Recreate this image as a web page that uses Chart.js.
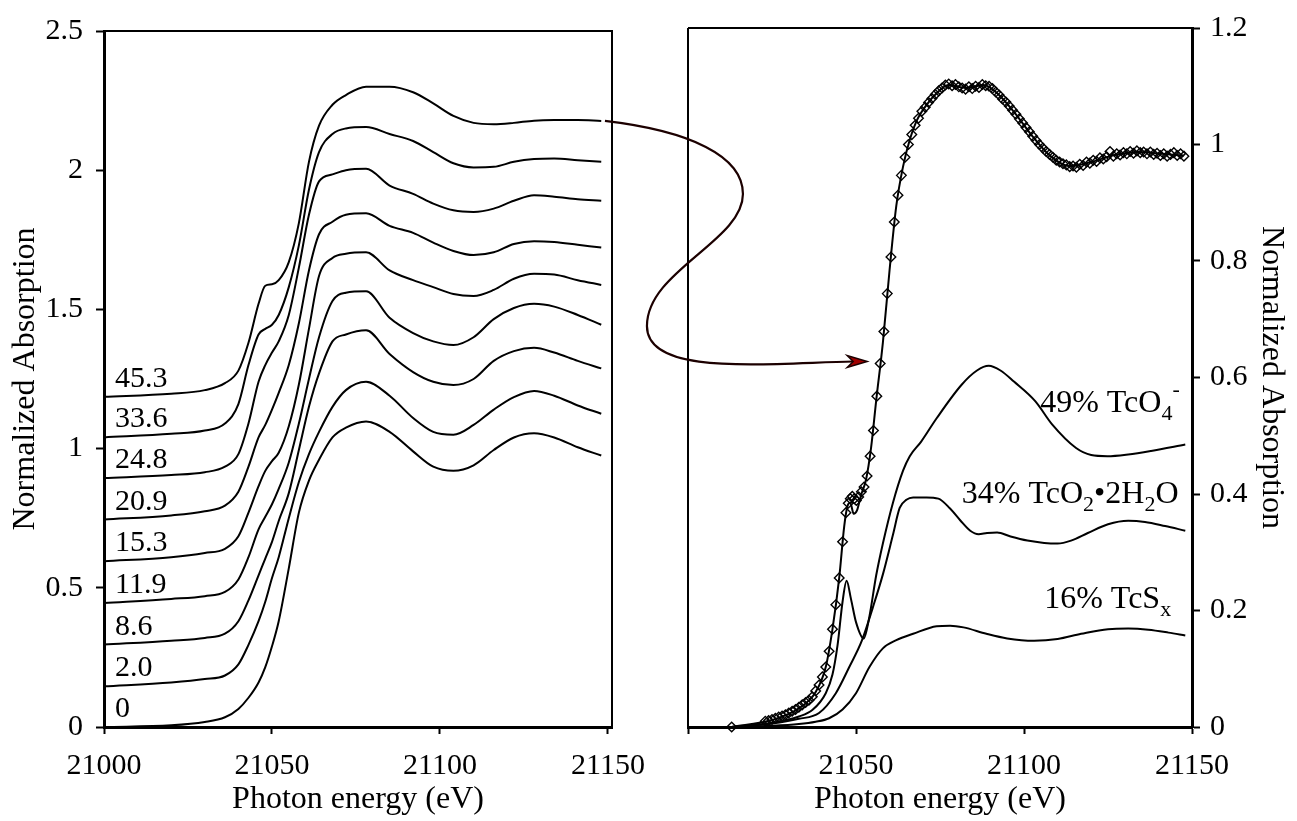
<!DOCTYPE html>
<html>
<head>
<meta charset="utf-8">
<script src="https://cdn.jsdelivr.net/npm/chart.js@4.4.0/dist/chart.umd.min.js"></script>
<style>
  html, body { margin: 0; padding: 0; background: #fff; }
  #wrap { position: relative; width: 1297px; height: 821px; }
  canvas { position: absolute; top: 0; }
  #leftChart { left: 0; }
  #rightChart { left: 650px; }
  #arrow { left: 0; pointer-events: none; }
</style>
</head>
<body>
<div id="wrap">
  <canvas id="leftChart" width="660" height="821"></canvas>
  <canvas id="rightChart" width="647" height="821"></canvas>
  <canvas id="arrow" width="1297" height="821"></canvas>
</div>
<script>
// left panel: stacked spectra, labelled by loading
const leftEnergy = [21000, 21020, 21030, 21036, 21040, 21043, 21046, 21048, 21050, 21052, 21055, 21058, 21061,
  21064, 21068, 21072, 21078, 21085, 21092, 21098, 21104, 21110, 21116, 21122, 21128, 21134, 21141, 21148];
const sampleLabels = ['0', '2.0', '8.6', '11.9', '15.3', '20.9', '24.8', '33.6', '45.3'];
const spec00 = [0, 0.006, 0.018, 0.035, 0.065, 0.105, 0.16, 0.215, 0.29, 0.38, 0.57, 0.77, 0.885,
  0.96, 1.04, 1.075, 1.097, 1.06, 0.99, 0.935, 0.92, 0.94, 0.995, 1.04, 1.055, 1.04, 1.005, 0.975];
const spec20 = [0.146, 0.16, 0.172, 0.185, 0.225, 0.295, 0.38, 0.45, 0.535, 0.61, 0.75, 0.88, 0.98,
  1.06, 1.15, 1.21, 1.24, 1.19, 1.11, 1.06, 1.05, 1.085, 1.14, 1.185, 1.207, 1.19, 1.155, 1.125];
const spec86 = [0.296, 0.31, 0.32, 0.335, 0.38, 0.455, 0.545, 0.605, 0.665, 0.74, 0.84, 0.995, 1.15,
  1.27, 1.385, 1.41, 1.425, 1.34, 1.275, 1.24, 1.228, 1.25, 1.315, 1.35, 1.362, 1.345, 1.315, 1.288];
const spec119 = [0.445, 0.46, 0.47, 0.485, 0.53, 0.61, 0.71, 0.755, 0.80, 0.855, 0.95, 1.09, 1.25,
  1.40, 1.53, 1.56, 1.565, 1.47, 1.415, 1.385, 1.372, 1.40, 1.465, 1.505, 1.52, 1.51, 1.48, 1.445];
const spec153 = [0.595, 0.61, 0.625, 0.64, 0.685, 0.77, 0.865, 0.92, 0.955, 0.985, 1.08, 1.23, 1.43,
  1.62, 1.685, 1.70, 1.705, 1.64, 1.605, 1.58, 1.555, 1.548, 1.57, 1.61, 1.628, 1.625, 1.605, 1.588];
const spec209 = [0.745, 0.76, 0.775, 0.795, 0.845, 0.935, 1.04, 1.085, 1.14, 1.20, 1.30, 1.45, 1.64,
  1.77, 1.815, 1.84, 1.845, 1.80, 1.775, 1.74, 1.71, 1.695, 1.705, 1.735, 1.745, 1.742, 1.732, 1.722];
const spec248 = [0.894, 0.905, 0.915, 0.935, 0.98, 1.09, 1.24, 1.30, 1.345, 1.385, 1.48, 1.65, 1.84,
  1.96, 1.985, 2.0, 2.005, 1.945, 1.915, 1.88, 1.856, 1.85, 1.862, 1.89, 1.91, 1.905, 1.896, 1.89];
const spec336 = [1.04, 1.053, 1.065, 1.09, 1.16, 1.30, 1.41, 1.43, 1.445, 1.48, 1.58, 1.73, 1.93,
  2.065, 2.13, 2.15, 2.155, 2.13, 2.105, 2.065, 2.025, 2.01, 2.012, 2.03, 2.04, 2.042, 2.036, 2.03];
const spec453 = [1.186, 1.197, 1.21, 1.235, 1.28, 1.38, 1.52, 1.585, 1.59, 1.605, 1.67, 1.81, 2.03,
  2.16, 2.235, 2.27, 2.30, 2.30, 2.28, 2.24, 2.195, 2.17, 2.165, 2.17, 2.178, 2.18, 2.18, 2.177];
const leftSeries = [spec00, spec20, spec86, spec119, spec153, spec209, spec248, spec336, spec453];

const leftXTicks = [21000, 21050, 21100, 21150];
const leftYTicks = [0, 0.5, 1, 1.5, 2, 2.5];

// right panel: measured spectrum (diamonds), fit and weighted components
const dataEnergy = [21013, 21023, 21024, 21025, 21026, 21027, 21028, 21029, 21030, 21031, 21032, 21033, 21034,
  21035, 21036, 21037, 21038, 21039, 21040, 21041, 21042, 21043, 21044, 21045, 21046, 21047, 21047.7, 21048.3,
  21048.9, 21049.5, 21050.1, 21050.8, 21051.6, 21052.4, 21053.3, 21054.2, 21055.2, 21056.2, 21057.2, 21058.3,
  21059.3, 21060.4, 21061.4, 21062.5, 21063.5, 21064.6, 21065.6, 21066.6, 21067.6, 21068.6, 21069.6,
  21070.6, 21071.6, 21072.6, 21073.6, 21074.6, 21075.6, 21076.6, 21077.6, 21078.6, 21079.6,
  21080.6, 21081.6, 21082.6, 21083.6, 21084.6, 21085.6, 21086.6, 21087.6, 21088.6, 21089.6,
  21090.6, 21091.6, 21092.6, 21093.6, 21094.6, 21095.6, 21096.6, 21097.6, 21098.6, 21099.6,
  21100.6, 21101.6, 21102.6, 21103.6, 21104.6, 21105.6, 21106.6, 21107.6, 21108.6, 21109.6,
  21110.6, 21111.6, 21112.6, 21113.6, 21114.6, 21115.6, 21116.6, 21117.6, 21118.6, 21119.6,
  21120.6, 21121.6, 21122.6, 21123.6, 21124.6, 21125.6, 21126.6, 21127.6, 21128.6, 21129.6,
  21130.6, 21131.6, 21132.6, 21133.6, 21134.6, 21135.6, 21136.6, 21137.6, 21138.6, 21139.6,
  21140.6, 21141.6, 21142.6, 21143.6, 21144.6, 21145.6, 21146.6, 21147.6];
const dataValues = [0, 0.010, 0.011, 0.013, 0.015, 0.017, 0.019, 0.021, 0.024, 0.027, 0.030, 0.034, 0.038,
  0.042, 0.046, 0.052, 0.062, 0.072, 0.086, 0.103, 0.13, 0.168, 0.21, 0.256, 0.318, 0.368, 0.384, 0.392,
  0.396, 0.392, 0.389, 0.395, 0.404, 0.412, 0.431, 0.465, 0.509, 0.568, 0.624, 0.679,
  0.744, 0.807, 0.867, 0.913, 0.947, 0.978, 1.000, 1.017, 1.033, 1.045, 1.057,
  1.064, 1.072, 1.079, 1.086, 1.092, 1.097, 1.102, 1.104, 1.101, 1.103,
  1.099, 1.097, 1.095, 1.099, 1.096, 1.100, 1.098, 1.103, 1.101, 1.100,
  1.096, 1.090, 1.085, 1.078, 1.073, 1.066, 1.059, 1.052, 1.044, 1.037,
  1.029, 1.022, 1.014, 1.007, 1.000, 0.994, 0.988, 0.983, 0.978, 0.973,
  0.970, 0.967, 0.965, 0.962, 0.963, 0.961, 0.966, 0.964, 0.970, 0.968,
  0.973, 0.971, 0.977, 0.975, 0.979, 0.988, 0.980, 0.984, 0.982, 0.986,
  0.984, 0.988, 0.985, 0.989, 0.986, 0.987, 0.984, 0.987, 0.983, 0.985,
  0.981, 0.984, 0.980, 0.983, 0.986, 0.981, 0.984, 0.980];

const fitEnergy = [21013, 21025, 21033, 21038, 21041, 21043, 21045, 21046.5, 21047.5, 21048.3, 21049.3, 21050.3,
  21051.5, 21053, 21054.5, 21056, 21058, 21060, 21062, 21064, 21066, 21068, 21071, 21074, 21077.5, 21083,
  21088, 21092, 21097, 21102, 21107.5, 21113.5, 21119.5, 21127, 21134, 21141, 21147.6];
const fitValues = [0, 0.012, 0.032, 0.06, 0.103, 0.168, 0.256, 0.345, 0.38, 0.385, 0.366, 0.372,
  0.398, 0.425, 0.48, 0.56, 0.66, 0.785, 0.895, 0.962, 1.008, 1.04, 1.068, 1.088, 1.102, 1.097,
  1.102, 1.088, 1.056, 1.018, 0.982, 0.963, 0.969, 0.982, 0.987, 0.984, 0.981];

const tco4Energy = [21013, 21025, 21033, 21037, 21041, 21043, 21044.5, 21046, 21047.2, 21048.5, 21050, 21052.3,
  21054, 21056, 21058, 21061, 21064, 21066, 21069.4, 21074, 21081.5, 21086, 21089.5, 21093, 21097, 21103.4,
  21108.3, 21115.5, 21120, 21124.8, 21131, 21137.8, 21148];
const tco4Values = [0, 0.007, 0.018, 0.029, 0.058, 0.09, 0.14, 0.215, 0.251, 0.22, 0.18, 0.152,
  0.19, 0.26, 0.315, 0.385, 0.44, 0.465, 0.49, 0.53, 0.588, 0.612, 0.62, 0.612, 0.593, 0.559,
  0.52, 0.479, 0.467, 0.465, 0.468, 0.474, 0.485];

const tco2Energy = [21013, 21025, 21033, 21039, 21044, 21048, 21051.8, 21055, 21058, 21061, 21063, 21065, 21067,
  21071, 21074.5, 21078, 21081, 21084, 21086.5, 21089, 21092, 21096, 21101, 21106, 21110, 21114, 21119, 21125,
  21131, 21136, 21142, 21148];
const tco2Values = [0, 0.006, 0.014, 0.024, 0.058, 0.103, 0.149, 0.205, 0.262, 0.33, 0.376, 0.39, 0.394,
  0.394, 0.392, 0.375, 0.355, 0.337, 0.331, 0.333, 0.334, 0.327, 0.32, 0.316, 0.315, 0.32, 0.333, 0.348,
  0.354, 0.352, 0.345, 0.337];

const tcsEnergy = [21013, 21025, 21033, 21038, 21042, 21046, 21050, 21054, 21058, 21062, 21067, 21074, 21078,
  21082, 21088.8, 21095, 21103, 21110, 21117, 21125, 21131, 21137, 21143, 21148];
const tcsValues = [0, 0.002, 0.005, 0.009, 0.015, 0.03, 0.058, 0.103, 0.135, 0.149, 0.16, 0.173, 0.174,
  0.171, 0.16, 0.152, 0.148, 0.151, 0.16, 0.168, 0.169, 0.167, 0.162, 0.157];

const rightXTicks = [21000, 21050, 21100, 21150];
const rightYTicks = [0, 0.2, 0.4, 0.6, 0.8, 1, 1.2];

const serif = "'Liberation Serif', 'Times New Roman', serif";
Chart.defaults.font.family = serif;
Chart.defaults.color = '#000';

const pts = (xs, ys) => xs.map((x, i) => ({ x, y: ys[i] }));

function frame(sides) {
  return {
    id: 'frame',
    afterDraw(chart) {
      const { ctx, chartArea: a } = chart;
      ctx.save();
      ctx.strokeStyle = '#000';
      ctx.lineWidth = 2;
      ctx.beginPath();
      if (sides.includes('top')) { ctx.moveTo(a.left, a.top); ctx.lineTo(a.right + 1, a.top); }
      if (sides.includes('right')) { ctx.moveTo(a.right, a.top); ctx.lineTo(a.right, a.bottom); }
      if (sides.includes('left')) { ctx.moveTo(a.left, a.top); ctx.lineTo(a.left, a.bottom); }
      ctx.stroke();
      ctx.restore();
    },
  };
}

const sampleLabelPlugin = {
  id: 'sampleLabels',
  afterDatasetsDraw(chart) {
    const { ctx, scales: { x, y } } = chart;
    ctx.save();
    ctx.font = `30px ${serif}`;
    ctx.fillStyle = '#000';
    ctx.textBaseline = 'alphabetic';
    leftSeries.forEach((s, i) => {
      ctx.fillText(sampleLabels[i], x.getPixelForValue(21003.3), y.getPixelForValue(s[0]) - 10);
    });
    ctx.restore();
  },
};

function drawRich(ctx, parts, x, y) {
  parts.forEach(([text, kind]) => {
    ctx.font = `${kind ? 22 : 32}px ${serif}`;
    const dy = kind === 'sub' ? 8 : kind === 'sup' ? -16 : 0;
    ctx.fillText(text, x, y + dy);
    x += ctx.measureText(text).width;
  });
}

const componentLabelPlugin = {
  id: 'componentLabels',
  afterDatasetsDraw(chart) {
    const { ctx, scales: { x, y } } = chart;
    ctx.save();
    ctx.fillStyle = '#000';
    ctx.textBaseline = 'alphabetic';
    drawRich(ctx, [['49% TcO'], ['4', 'sub'], ['-', 'sup']], x.getPixelForValue(21104.8), y.getPixelForValue(0.54));
    drawRich(ctx, [['34% TcO'], ['2', 'sub'], ['\u20222H'], ['2', 'sub'], ['O']], x.getPixelForValue(21081.5), y.getPixelForValue(0.385));
    drawRich(ctx, [['16% TcS'], ['x', 'sub']], x.getPixelForValue(21106), y.getPixelForValue(0.205));
    ctx.restore();
  },
};

const lineStyle = { borderColor: '#000', borderWidth: 2, pointRadius: 0, fill: false, cubicInterpolationMode: 'monotone' };

const leftChart = new Chart(document.getElementById('leftChart'), {
  type: 'line',
  data: {
    datasets: leftSeries.map((s, i) => ({ label: sampleLabels[i], data: pts(leftEnergy, s), ...lineStyle })),
  },
  options: {
    responsive: false,
    animation: false,
    events: [],
    layout: { padding: { top: 25, right: 48, left: 0, bottom: 0 } },
    plugins: { legend: { display: false }, tooltip: { enabled: false } },
    scales: {
      x: {
        type: 'linear', min: 21000, max: 21151.2,
        afterBuildTicks: s => { s.ticks = leftXTicks.map(v => ({ value: v })); },
        afterFit: s => { s.height = 94; },
        border: { color: '#000', width: 3 },
        grid: { drawOnChartArea: false, tickLength: 7, tickWidth: 2, tickColor: '#000' },
        ticks: { font: { size: 30 }, color: '#000', padding: 14, maxRotation: 0, autoSkip: false, callback: v => String(v) },
        title: { display: true, text: 'Photon energy (eV)', font: { size: 32 }, color: '#000', padding: { top: 0, bottom: 2 } },
      },
      y: {
        type: 'linear', min: 0, max: 2.5,
        afterBuildTicks: s => { s.ticks = leftYTicks.map(v => ({ value: v })); },
        afterFit: s => { s.width = 104; },
        border: { color: '#000', width: 3 },
        grid: { drawOnChartArea: false, tickLength: 8, tickWidth: 2, tickColor: '#000' },
        ticks: { font: { size: 30 }, color: '#000', padding: 13, autoSkip: false, callback: v => String(v) },
        title: { display: true, text: 'Normalized Absorption', font: { size: 32 }, color: '#000', padding: { top: 6, bottom: 0 } },
      },
    },
  },
  plugins: [frame(['top', 'right']), sampleLabelPlugin],
});

const rightChart = new Chart(document.getElementById('rightChart'), {
  type: 'line',
  data: {
    datasets: [
      { label: 'fit', data: pts(fitEnergy, fitValues), ...lineStyle },
      { label: 'TcO4-', data: pts(tco4Energy, tco4Values), ...lineStyle },
      { label: 'TcO2.2H2O', data: pts(tco2Energy, tco2Values), ...lineStyle },
      { label: 'TcSx', data: pts(tcsEnergy, tcsValues), ...lineStyle },
      {
        label: 'data', data: pts(dataEnergy, dataValues), showLine: false, clip: false,
        pointStyle: 'rectRot', pointRadius: 4.8, pointBorderWidth: 1.4,
        pointBorderColor: '#000', pointBackgroundColor: 'rgba(255,255,255,0)',
      },
    ],
  },
  options: {
    responsive: false,
    animation: false,
    events: [],
    layout: { padding: { top: 25, right: 0, left: 38, bottom: 0 } },
    plugins: { legend: { display: false }, tooltip: { enabled: false } },
    scales: {
      x: {
        type: 'linear', min: 21000, max: 21150,
        afterBuildTicks: s => { s.ticks = rightXTicks.map(v => ({ value: v })); },
        afterFit: s => { s.height = 94; },
        border: { color: '#000', width: 3 },
        grid: { drawOnChartArea: false, tickLength: 7, tickWidth: 2, tickColor: '#000' },
        ticks: { font: { size: 30 }, color: '#000', padding: 14, maxRotation: 0, autoSkip: false,
          callback: v => (v === 21000 ? '' : String(v)) },
        title: { display: true, text: 'Photon energy (eV)', font: { size: 32 }, color: '#000', padding: { top: 0, bottom: 2 } },
      },
      y: {
        type: 'linear', position: 'right', min: 0, max: 1.2,
        afterBuildTicks: s => { s.ticks = rightYTicks.map(v => ({ value: v })); },
        afterFit: s => { s.width = 105; },
        border: { color: '#000', width: 3 },
        grid: { drawOnChartArea: false, tickLength: 8, tickWidth: 2, tickColor: '#000' },
        ticks: { font: { size: 30 }, color: '#000', padding: 10, autoSkip: false, callback: v => String(v) },
        title: { display: true, text: 'Normalized Absorption', font: { size: 32 }, color: '#000', padding: { top: 6, bottom: 0 } },
      },
    },
  },
  plugins: [frame(['top', 'left']), componentLabelPlugin],
});

// S-shaped arrow from the top spectrum to the fitted one
function drawArrow() {
  const ctx = document.getElementById('arrow').getContext('2d');
  const shift = 650;
  const s = {
    x: leftChart.scales.x.getPixelForValue(21149.1),
    y: leftChart.scales.y.getPixelForValue(spec453[spec453.length - 1]),
  };
  const t = {
    x: shift + rightChart.scales.x.getPixelForValue(21057.2) - 13,
    y: rightChart.scales.y.getPixelForValue(0.624) - 2,
  };
  ctx.save();
  ctx.strokeStyle = '#1c0000';
  ctx.lineWidth = 2.2;
  ctx.beginPath();
  ctx.moveTo(s.x, s.y);
  ctx.bezierCurveTo(s.x + 85, s.y + 10, s.x + 138, s.y + 35, s.x + 138, s.y + 73);
  ctx.bezierCurveTo(s.x + 138, s.y + 120, s.x + 42, s.y + 150, s.x + 42, s.y + 205);
  ctx.bezierCurveTo(s.x + 42, s.y + 255, t.x - 107, t.y + 2, t.x - 14, t.y);
  ctx.stroke();
  ctx.beginPath();
  ctx.moveTo(t.x, t.y);
  ctx.lineTo(t.x - 20, t.y - 6);
  ctx.lineTo(t.x - 14, t.y);
  ctx.lineTo(t.x - 20, t.y + 6);
  ctx.closePath();
  ctx.fillStyle = '#a00000';
  ctx.fill();
  ctx.lineWidth = 1.5;
  ctx.stroke();
  ctx.restore();
}
drawArrow();
</script>
</body>
</html>
